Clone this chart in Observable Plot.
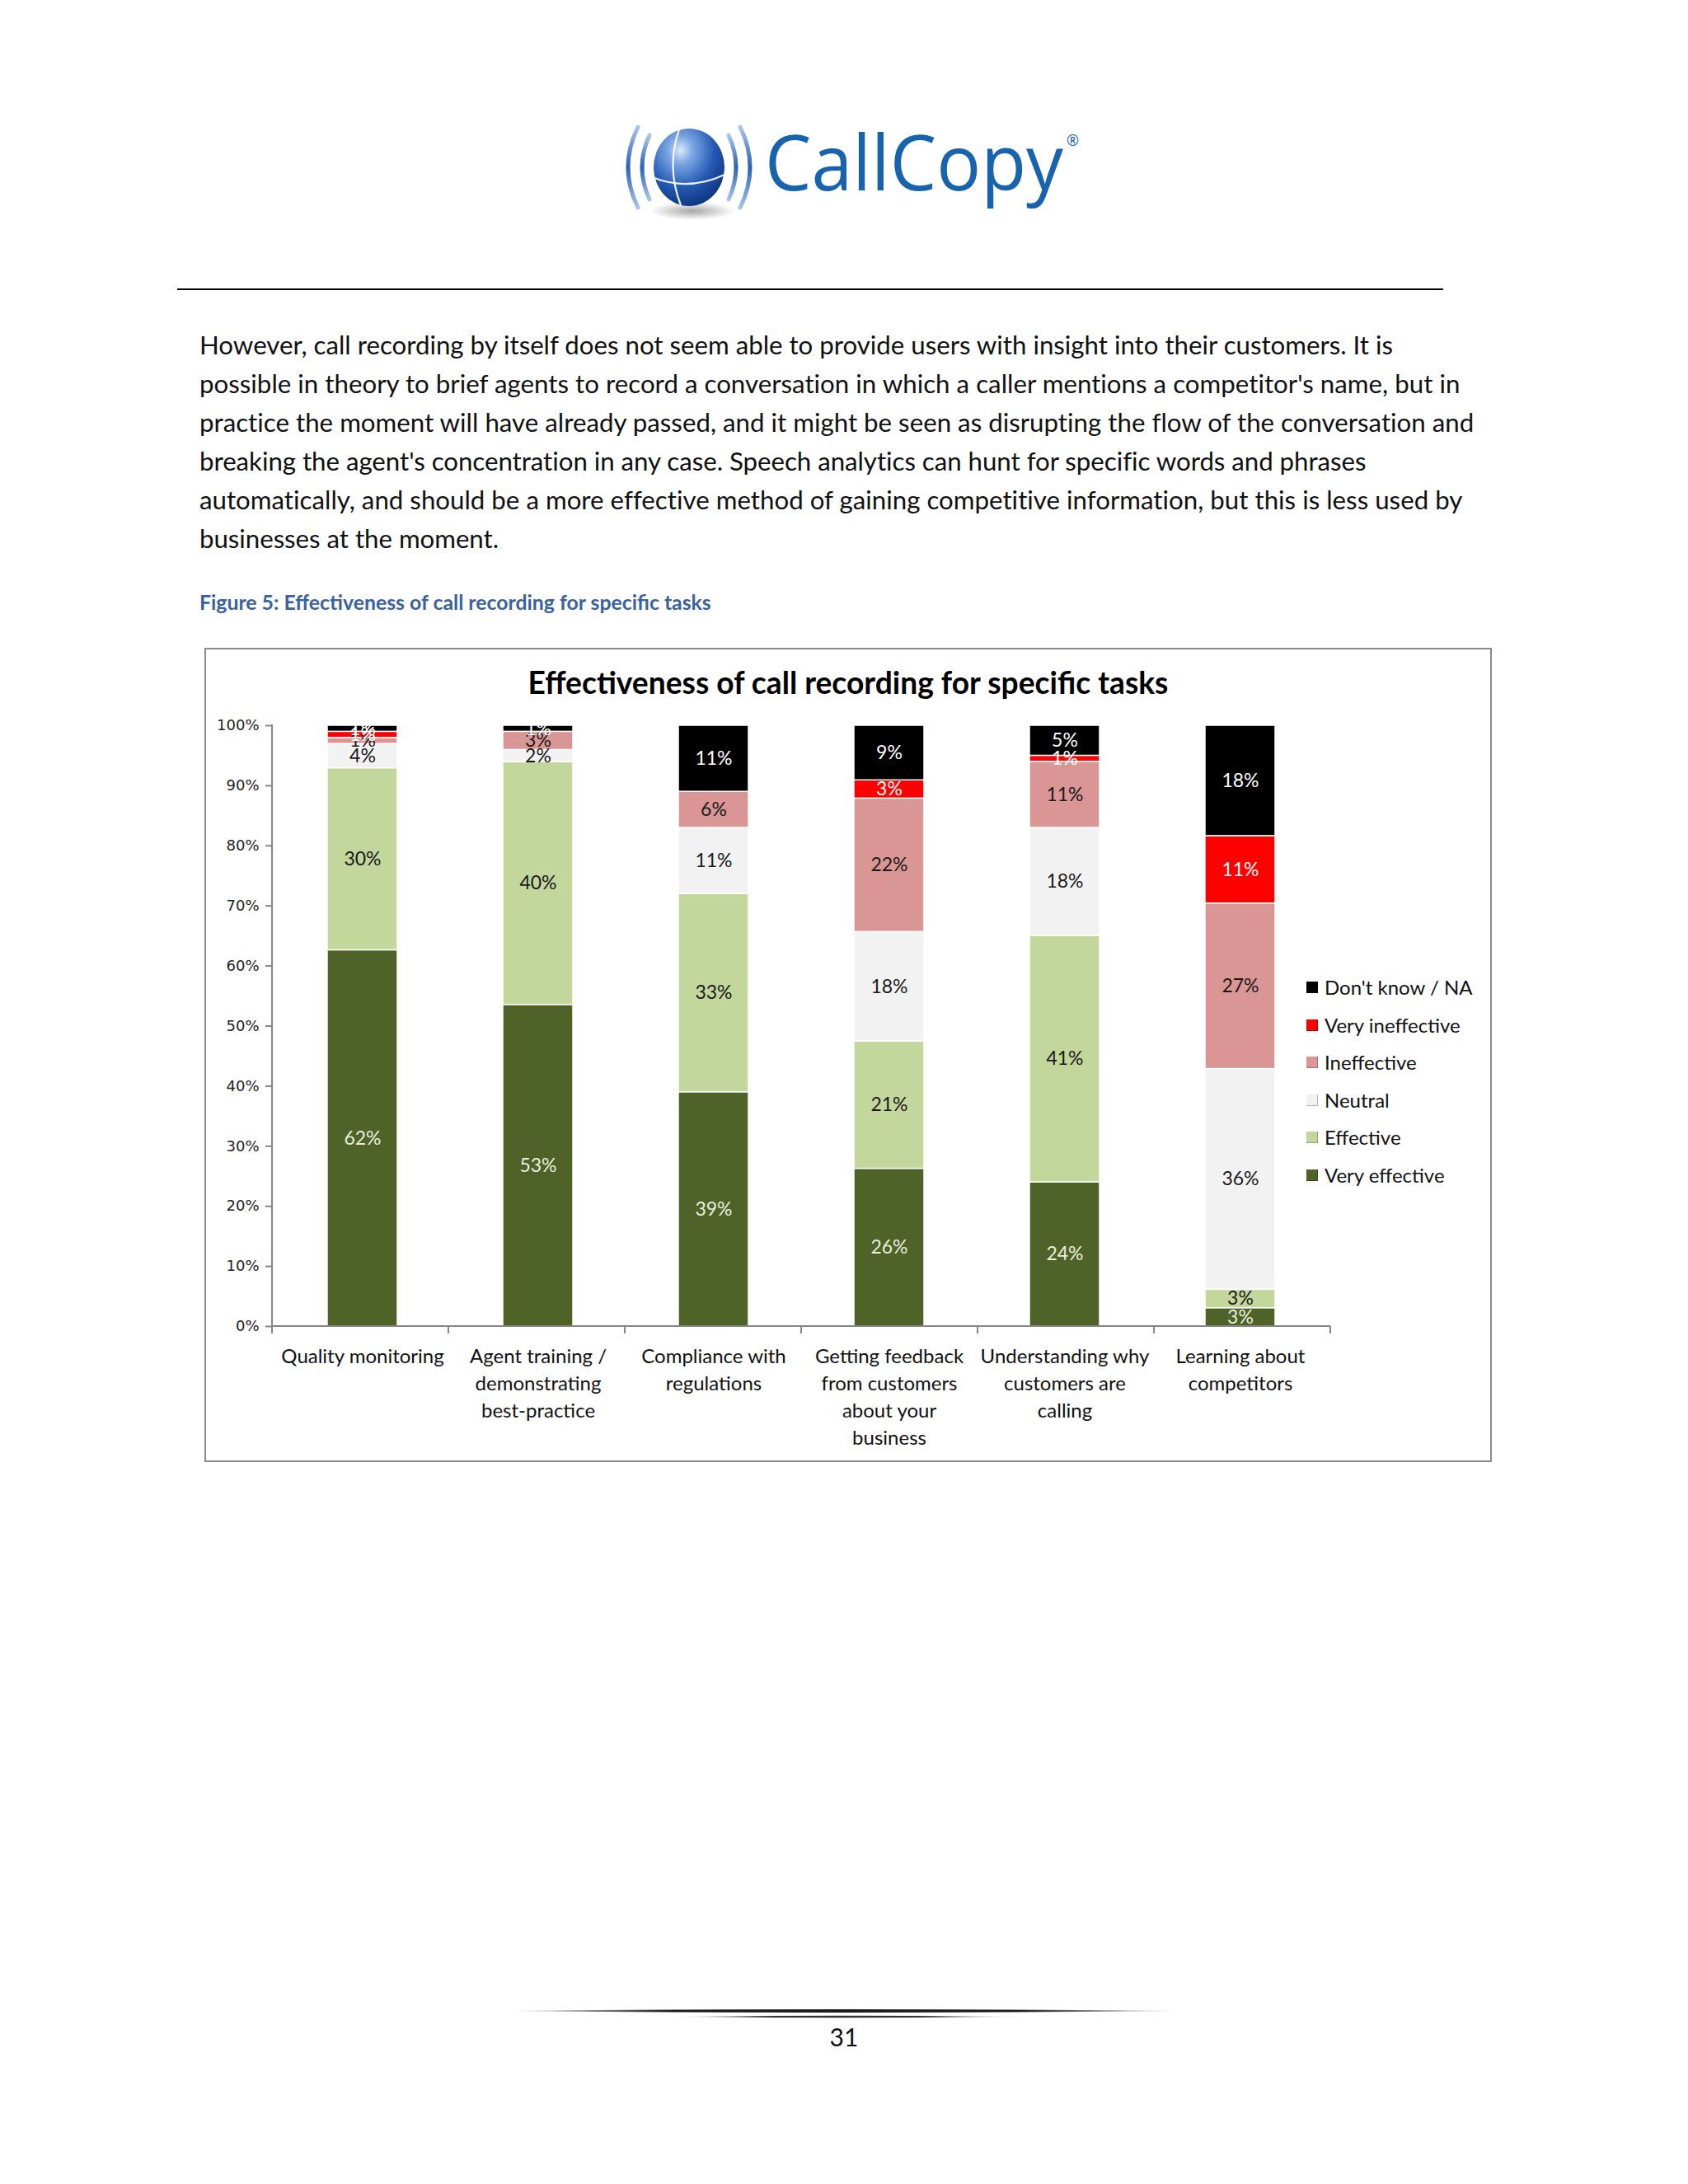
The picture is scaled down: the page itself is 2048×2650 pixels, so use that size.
<!DOCTYPE html>
<html><head><meta charset="utf-8">
<script src="https://cdn.jsdelivr.net/npm/d3@7"></script>
<script src="https://cdn.jsdelivr.net/npm/@observablehq/plot@0.6"></script>
<style>
body{margin:0;background:#fff;}
#page{position:relative;width:2048px;height:2650px;overflow:hidden;background:#fff;font-family:Lato,"Open Sans",sans-serif;color:#000;}
.abs{position:absolute;white-space:nowrap;}
.ln{display:block;height:47px;line-height:47px;}
.ln span{display:inline-block;white-space:nowrap;}
</style></head>
<body><div id="page">

<svg class="abs" style="left:740px;top:100px" width="600" height="200" viewBox="0 -40 600 200">
<defs>
<radialGradient id="gl" cx="0.38" cy="0.28" r="0.8">
 <stop offset="0" stop-color="#dbe9fc"/>
 <stop offset="0.22" stop-color="#7aa6e4"/>
 <stop offset="0.6" stop-color="#2459b2"/>
 <stop offset="1" stop-color="#0a2f74"/>
</radialGradient>
<radialGradient id="sh" cx="0.5" cy="0.5" r="0.5"><stop offset="0" stop-color="#8a8a8a" stop-opacity="0.75"/><stop offset="1" stop-color="#8a8a8a" stop-opacity="0"/></radialGradient>
<linearGradient id="arc" x1="0" y1="0" x2="0" y2="1"><stop offset="0" stop-color="#a9c6ea"/><stop offset="0.5" stop-color="#2a62b5"/><stop offset="1" stop-color="#a9c6ea"/></linearGradient>
</defs>
<ellipse cx="100" cy="116" rx="52" ry="11" fill="url(#sh)"/>
<ellipse cx="96" cy="63" rx="43" ry="47" fill="url(#gl)"/>
<path d="M84,17 Q68,63 86,109" stroke="#fff" stroke-width="2.2" fill="none" opacity="0.9"/>
<path d="M54,76 Q96,92 139,72" stroke="#fff" stroke-width="2.2" fill="none" opacity="0.9"/>
<path d="M48,24 Q30,63 48,102" stroke="url(#arc)" stroke-width="5" fill="none" stroke-linecap="round"/>
<path d="M34,14 Q10,63 34,112" stroke="url(#arc)" stroke-width="5" fill="none" stroke-linecap="round"/>
<path d="M144,24 Q162,63 144,102" stroke="url(#arc)" stroke-width="5" fill="none" stroke-linecap="round"/>
<path d="M158,14 Q182,63 158,112" stroke="url(#arc)" stroke-width="5" fill="none" stroke-linecap="round"/>
<text x="188" y="91" font-family="Open Sans" font-size="94" fill="#1763ae" textLength="362" lengthAdjust="spacingAndGlyphs">CallCopy</text>
<text x="554" y="37" font-family="Open Sans" font-size="18" fill="#1763ae">®</text>
</svg>

<div class="abs" style="left:215px;top:350px;width:1536px;height:2px;background:#000"></div>

<div id="para" class="abs" style="left:242px;top:395px;font-size:28px;color:#111"></div>

<div class="abs" style="left:242px;top:716px;height:30px;line-height:30px;"><span id="cap" style="display:inline-block;font-weight:bold;font-size:22px;color:#3a62a0">Figure 5: Effectiveness of call recording for specific tasks</span></div>

<div id="chart" class="abs" style="left:248px;top:786px;width:1562px;height:988px;"></div>
<div class="abs" style="left:248px;top:786px;width:1562px;height:988px;border:2px solid #8a8a8a;box-sizing:border-box;pointer-events:none"></div>
<div class="abs" style="left:248px;top:803px;width:1562px;height:50px;line-height:50px;text-align:center"><span id="ctitle" style="display:inline-block;font-weight:bold;font-size:34px;color:#000">Effectiveness of call recording for specific tasks</span></div>
<div id="legend" class="abs" style="left:1585px;top:1175px;"></div>

<svg class="abs" style="left:0;top:2420px" width="2048" height="40">
<defs>
<linearGradient id="fl1" x1="608" x2="1440" y1="0" y2="0" gradientUnits="userSpaceOnUse"><stop offset="0" stop-color="#000" stop-opacity="0"/><stop offset="0.25" stop-color="#000" stop-opacity="0.9"/><stop offset="0.75" stop-color="#000" stop-opacity="0.9"/><stop offset="1" stop-color="#000" stop-opacity="0"/></linearGradient>
<linearGradient id="fl2" x1="811" x2="1242" y1="0" y2="0" gradientUnits="userSpaceOnUse"><stop offset="0" stop-color="#666" stop-opacity="0"/><stop offset="0.3" stop-color="#333" stop-opacity="1"/><stop offset="0.7" stop-color="#333" stop-opacity="1"/><stop offset="1" stop-color="#666" stop-opacity="0"/></linearGradient>
</defs>
<path d="M608,20 Q1024,16 1440,20 Q1024,24 608,20Z" fill="url(#fl1)"/>
<path d="M811,27 Q1026,24.6 1242,27 Q1026,29.4 811,27Z" fill="url(#fl2)"/>
</svg>
<div class="abs" style="left:0;top:2453px;width:2048px;height:36px;line-height:36px;text-align:center;font-size:30px;color:#111">31</div>

</div>
<script>
// ---------- data ----------
const categories = ["Quality monitoring", "Agent training / demonstrating best-practice", "Compliance with regulations", "Getting feedback from customers about your business", "Understanding why customers are calling", "Learning about competitors"];
const xTickLabels = ["Quality monitoring", "Agent training /\ndemonstrating\nbest-practice", "Compliance with\nregulations", "Getting feedback\nfrom customers\nabout your\nbusiness", "Understanding why\ncustomers are\ncalling", "Learning about\ncompetitors"];
const series = ["Very effective", "Effective", "Neutral", "Ineffective", "Very ineffective", "Don't know / NA"];
const seriesColors = ["#4f6228", "#c3d69b", "#f2f2f2", "#d99694", "#ff0000", "#000000"];
const veryEffective   = [62, 53, 39, 26, 24, 3];
const effective       = [30, 40, 33, 21, 41, 3];
const neutral         = [4, 2, 11, 18, 18, 36];
const ineffective     = [1, 3, 6, 22, 11, 27];
const veryIneffective = [1, 0, 0, 3, 1, 11];
const dontKnow        = [1, 1, 11, 9, 5, 18];
const yTicks = [0, 0.1, 0.2, 0.3, 0.4, 0.5, 0.6, 0.7, 0.8, 0.9, 1];
const yTickLabels = ["0%", "10%", "20%", "30%", "40%", "50%", "60%", "70%", "80%", "90%", "100%"];
const paragraphLines = [
  "However, call recording by itself does not seem able to provide users with insight into their customers. It is",
  "possible in theory to brief agents to record a conversation in which a caller mentions a competitor's name, but in",
  "practice the moment will have already passed, and it might be seen as disrupting the flow of the conversation and",
  "breaking the agent's concentration in any case. Speech analytics can hunt for specific words and phrases",
  "automatically, and should be a more effective method of gaining competitive information, but this is less used by",
  "businesses at the moment."
];
const paragraphWidths = [1448, 1531, 1548, 1416, 1534, 363];

// ---------- text layout ----------
const para = document.getElementById("para");
const spans = paragraphLines.map(t => {
  const d = document.createElement("div"); d.className = "ln";
  const s = document.createElement("span"); s.textContent = t; d.appendChild(s); para.appendChild(d); return s;
});
const ratios = spans.map((s, i) => paragraphWidths[i] / s.getBoundingClientRect().width).slice(0, 5).sort((a, b) => a - b);
const pfs = 28 * ratios[2];
para.style.fontSize = pfs + "px";
spans.forEach((s, i) => {
  const w = s.getBoundingClientRect().width;
  const n = paragraphLines[i].length;
  s.style.letterSpacing = ((paragraphWidths[i] - w) / n) + "px";
});
function fitTo(el, target) {
  const w = el.getBoundingClientRect().width;
  const fs = parseFloat(getComputedStyle(el).fontSize);
  el.style.fontSize = (fs * target / w) + "px";
}
fitTo(document.getElementById("cap"), 621);
fitTo(document.getElementById("ctitle"), 777);

// ---------- legend ----------
const legend = document.getElementById("legend");
series.slice().reverse().forEach((s, k) => {
  const i = series.indexOf(s);
  const row = document.createElement("div");
  row.style.cssText = "position:absolute;left:0;top:" + (k * 45.6) + "px;height:46px;line-height:46px;white-space:nowrap;font-size:24px;color:#111";
  const sw = document.createElement("span");
  const c = d3.color(seriesColors[i]);
  sw.style.cssText = "position:absolute;left:0;top:16px;width:13px;height:13px;background:" + seriesColors[i] + ";border-right:1.5px solid " + c.darker(0.8) + ";border-bottom:1.5px solid " + c.darker(0.8);
  const tx = document.createElement("span");
  tx.style.cssText = "position:absolute;left:22px;top:0";
  tx.textContent = s;
  row.appendChild(sw); row.appendChild(tx); legend.appendChild(row);
});

// ---------- chart ----------
const seriesValues = [veryEffective, effective, neutral, ineffective, veryIneffective, dontKnow];
const rows = series.flatMap((s, si) => categories.map((c, ci) => ({category: c, series: s, value: seriesValues[si][ci]})));

const stackOpts = {x: "category", y: "value", z: "series", order: series, offset: "normalize"};
const labelGroups = [
  {members: ["Very effective"], fill: "#e9efdc"},
  {members: ["Effective", "Neutral", "Ineffective"], fill: "#1a1a1a"},
  {members: ["Very ineffective", "Don't know / NA"], fill: "#ffffff"}
];

function axesMark(index, scales, values, dims) {
  const x = scales.x, y = scales.y;
  const g = d3.create("svg:g").attr("stroke", "#868686").attr("stroke-width", 2).attr("fill", "none");
  const left = dims.marginLeft, right = dims.width - dims.marginRight;
  const y0 = y(0), y1 = y(1);
  g.append("line").attr("x1", left).attr("x2", left).attr("y1", y1 - 1).attr("y2", y0);
  g.append("line").attr("x1", left).attr("x2", right).attr("y1", y0).attr("y2", y0);
  const bw = x.bandwidth(), st = x.step();
  const n = categories.length;
  // category boundaries spread evenly across the axis, as in the original
  const edgeStep = (right - left) / n;
  d3.range(n + 1).forEach(k => {
    const e = left + k * edgeStep;
    g.append("line").attr("x1", e).attr("x2", e).attr("y1", y0).attr("y2", y0 + 9);
  });
  return g.node();
}

const plot = Plot.plot({
  width: 1562,
  height: 988,
  marginLeft: 82,
  marginRight: 196,
  marginTop: 94,
  marginBottom: 165,
  style: {fontFamily: "Lato", background: "transparent", overflow: "visible"},
  x: {domain: categories, paddingInner: 0.6, paddingOuter: 0.31, axis: null},
  y: {domain: [0, 1], axis: null},
  color: {domain: series, range: seriesColors},
  marks: [
    Plot.barY(rows, Plot.stackY({...stackOpts, fill: "series", stroke: "#ffffff", strokeWidth: 1.5})),
    ...labelGroups.map(g => Plot.text(rows, Plot.stackY({
      ...stackOpts,
      text: d => (g.members.includes(d.series) && d.value > 0) ? d.value + "%" : "",
      fill: g.fill, fontSize: 23, fontFamily: "Lato"
    }))),
    Plot.axisY({ticks: yTicks, tickFormat: d => yTickLabels[yTicks.findIndex(t => Math.abs(t - d) < 1e-9)], tickSize: 8, tickPadding: 8, fontSize: 18, fontFamily: "DejaVu Sans", stroke: "#868686", strokeWidth: 2, fill: "#222", label: null}),
    Plot.axisX({tickSize: 0, tickPadding: 21, fontSize: 24, fontFamily: "Lato", lineHeight: 1.38, tickFormat: c => xTickLabels[categories.indexOf(c)], fill: "#111", label: null}),
    axesMark
  ]
});
document.getElementById("chart").appendChild(plot);
</script>
</body></html>
